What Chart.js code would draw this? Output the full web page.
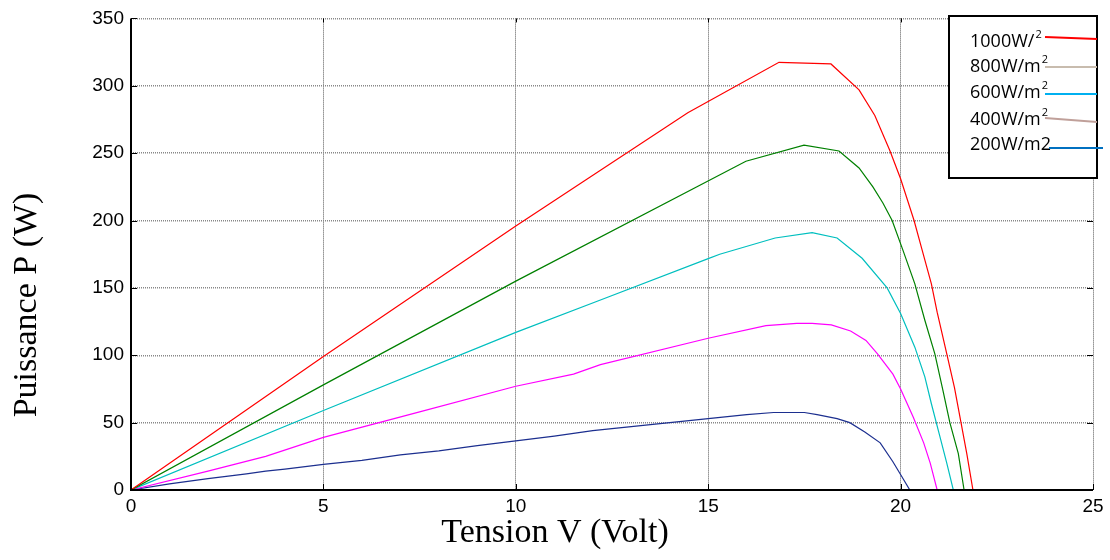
<!DOCTYPE html>
<html>
<head>
<meta charset="utf-8">
<title>Puissance - Tension</title>
<script src="https://cdn.jsdelivr.net/npm/chart.js@4"></script>
<style>
  html, body { margin: 0; padding: 0; background: #fff; }
  #wrap { width: 1110px; height: 560px; position: relative; }
</style>
</head>
<body>
<div id="wrap"><canvas id="pv"></canvas></div>
<script>
// P-V curves for five irradiance levels
const v1000 = [0, 5, 10, 14.47, 16.84, 18.19, 18.92, 19.33, 19.72, 20.0, 20.35, 20.56, 20.8, 20.95, 21.2, 21.4, 21.57, 21.72, 21.88];
const p1000 = [0, 99, 196, 280, 317.4, 316.2, 297, 278, 252, 231, 200, 178, 153, 132, 101, 76, 50, 27, 0];

const v800 = [0, 5, 10, 15.98, 17.49, 18.4, 18.92, 19.28, 19.54, 19.78, 20.06, 20.37, 20.63, 20.89, 21.1, 21.28, 21.5, 21.65];
const p800 = [0, 78, 155, 244, 256, 251.6, 239, 225, 213, 200, 178, 153, 126, 101, 74, 50, 27, 0];

const v600 = [0, 5, 10, 12.2, 15, 15.3, 16.74, 17.7, 18.35, 19.0, 19.65, 20.0, 20.37, 20.63, 20.8, 21.0, 21.2, 21.37];
const p600 = [0, 59, 117, 141, 171.7, 175, 187, 191, 187, 172, 150, 131, 106, 84, 64, 42, 20, 0];

const v400 = [0, 2, 3.5, 5, 7.5, 10, 11.5, 12.2, 15, 16.5, 17.3, 17.7, 18.2, 18.7, 19.1, 19.4, 19.8, 20.0, 20.33, 20.6, 20.77, 20.95];
const p400 = [0, 14, 25, 39, 58, 77, 86, 93, 112.6, 122, 123.6, 123.6, 122.6, 118, 111, 101, 86, 75, 54, 35, 20, 0];

const v200 = [0, 1, 2, 3, 3.5, 4, 5, 6, 7, 8, 9, 10, 11, 12, 13, 14, 15, 16, 16.7, 17.5, 17.83, 18.35, 18.68, 19.07, 19.47, 19.8, 20.03, 20.24];
const p200 = [0, 4.5, 8.5, 12, 14, 15.5, 19, 22, 26, 29, 33, 36.5, 40, 44, 47, 50, 53, 56, 57.5, 57.5, 56, 53, 50, 43, 35, 21, 10, 0];

const seriesColors = ['#ff0000', '#008000', '#00bfbf', '#ff00ff', '#1c2f8f'];

// legend entries (text, superscript, swatch colour)
const legendText = ['1000W/', '800W/m', '600W/m', '400W/m', '200W/m2'];
const legendSup = ['2', '2', '2', '2', ''];
const legendColors = ['#ff0000', '#c8bcae', '#00b0f0', '#c0a09a', '#0070c0'];

const xTicks = [0, 5, 10, 15, 20, 25];
const yTicks = [0, 50, 100, 150, 200, 250, 300, 350];

const toPoints = (vs, ps) => vs.map((v, i) => ({ x: v, y: ps[i] }));

const datasets = [
  [v1000, p1000], [v800, p800], [v600, p600], [v400, p400], [v200, p200]
].map(([vs, ps], i) => ({
  data: toPoints(vs, ps),
  borderColor: seriesColors[i],
  borderWidth: 1.2,
  pointRadius: 0,
  showLine: true,
  tension: 0,
  fill: false
}));

// black left/bottom axes + inward tick marks on all four sides
const frame = {
  id: 'frame',
  afterDatasetsDraw(chart) {
    const { ctx, chartArea: a, scales: { x, y } } = chart;
    ctx.save();
    ctx.strokeStyle = '#000';
    ctx.lineWidth = 1;
    ctx.beginPath();
    xTicks.forEach(t => {
      const px = Math.round(x.getPixelForValue(t)) + 0.5;
      ctx.moveTo(px, a.bottom); ctx.lineTo(px, a.bottom - 6);
      ctx.moveTo(px, a.top); ctx.lineTo(px, a.top + 4);
    });
    yTicks.forEach(t => {
      const py = Math.round(y.getPixelForValue(t)) + 0.5;
      ctx.moveTo(a.left, py); ctx.lineTo(a.left + 6, py);
      ctx.moveTo(a.right, py); ctx.lineTo(a.right - 6, py);
    });
    ctx.stroke();
    ctx.lineWidth = 2;
    ctx.beginPath();
    ctx.moveTo(a.left, a.top);
    ctx.lineTo(a.left, a.bottom);
    ctx.lineTo(a.right, a.bottom);
    ctx.stroke();
    ctx.restore();
  }
};

// axis titles
const titles = {
  id: 'titles',
  afterDraw(chart) {
    const { ctx } = chart;
    ctx.save();
    ctx.fillStyle = '#000';
    ctx.font = '34px "Liberation Serif", "Times New Roman", serif';
    ctx.textAlign = 'center';
    ctx.textBaseline = 'alphabetic';
    ctx.fillText('Tension V (Volt)', 555, 542);
    ctx.translate(36, 305);
    ctx.rotate(-Math.PI / 2);
    ctx.fillText('Puissance P (W)', 0, 0);
    ctx.restore();
  }
};

// boxed legend in the upper right corner
const boxLegend = {
  id: 'boxLegend',
  afterDraw(chart) {
    const { ctx } = chart;
    ctx.save();
    ctx.fillStyle = '#fff';
    ctx.fillRect(949, 16, 148, 162);
    ctx.strokeStyle = '#000';
    ctx.lineWidth = 2;
    ctx.strokeRect(949, 16, 148, 162);

    const baselines = [47, 72, 98, 125, 150];
    const lines = [
      [1045, 37, 1097, 39],
      [1045, 67, 1097, 67],
      [1045, 94, 1097, 94],
      [1045, 118, 1097, 122],
      [1049, 148, 1103, 148]
    ];
    legendText.forEach((txt, i) => {
      ctx.fillStyle = '#000';
      ctx.font = '18px "Open Sans", "Noto Sans", sans-serif';
      ctx.textAlign = 'left';
      ctx.textBaseline = 'alphabetic';
      ctx.fillText(txt, 970, baselines[i]);
      if (legendSup[i]) {
        const w = ctx.measureText(txt).width;
        ctx.font = '11px "Open Sans", "Noto Sans", sans-serif';
        ctx.fillText(legendSup[i], 970 + w + 1, baselines[i] - 9);
      }
      const [x1, y1, x2, y2] = lines[i];
      ctx.strokeStyle = legendColors[i];
      ctx.lineWidth = 2;
      ctx.beginPath();
      ctx.moveTo(x1, y1);
      ctx.lineTo(x2, y2);
      ctx.stroke();
    });
    ctx.restore();
  }
};

const tickFont = { family: '"Liberation Sans", Arial, sans-serif', size: 19 };

new Chart(document.getElementById('pv'), {
  type: 'scatter',
  data: { datasets },
  options: {
    responsive: true,
    maintainAspectRatio: false,
    animation: false,
    layout: { padding: { top: 17, right: 17, left: 0, bottom: 0 } },
    plugins: {
      legend: { display: false },
      tooltip: { enabled: false }
    },
    scales: {
      x: {
        type: 'linear',
        min: 0,
        max: 25,
        afterBuildTicks: s => { s.ticks = xTicks.map(v => ({ value: v })); },
        afterFit: s => { s.height = 70; },
        ticks: { color: '#000', font: tickFont, padding: 5, maxRotation: 0 },
        grid: { color: '#555', lineWidth: 1, drawTicks: false },
        border: { display: false, dash: [1, 1] }
      },
      y: {
        type: 'linear',
        min: 0,
        max: 350,
        afterBuildTicks: s => { s.ticks = yTicks.map(v => ({ value: v })); },
        afterFit: s => { s.width = 131; },
        ticks: { color: '#000', font: tickFont, padding: 7 },
        grid: { color: '#888', lineWidth: 1.5, drawTicks: false },
        border: { display: false, dash: [1, 1] }
      }
    }
  },
  plugins: [frame, titles, boxLegend]
});
</script>
</body>
</html>
